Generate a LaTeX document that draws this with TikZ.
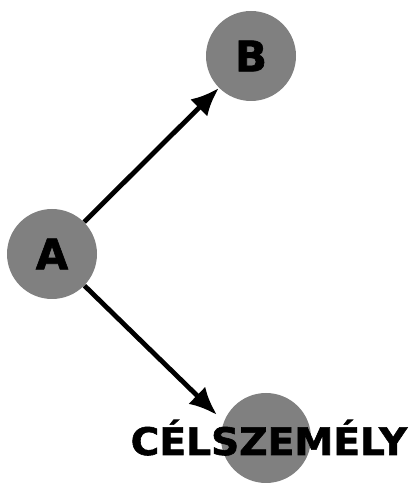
\documentclass[tikz,border=0pt]{standalone}
\usepackage{fontspec}
\setmainfont{DejaVu Sans}
\newfontfamily\heavyfont[FakeBold=1.5]{DejaVu Sans Bold}
\usetikzlibrary{arrows.meta, positioning}
\definecolor{nodegray}{RGB}{128,128,128}
\newcommand{\nodesize}{90pt}

\begin{document}
\begin{tikzpicture}[x=1pt,y=1pt,style=thick]
            \useasboundingbox (0,0) rectangle (410,484);
            \begin{scope}[shape=circle,minimum size=\nodesize]
            \tikzstyle{every node}=[fill=nodegray,inner sep=0pt,font=\heavyfont\fontsize{42}{42}\selectfont]
            
            \node (A) at (52,230) {A};
            \node (B) at (251,428) {B};
            \node (C) at (266,46) {};
            \end{scope}
            
            \node[inner sep=0pt,anchor=base,xscale=1.03,font=\heavyfont\fontsize{38}{38}\selectfont] (Cl) at (269,29) {CÉLSZEMÉLY};
            \coordinate (Ctip) at (217,69);
            
            \draw [line width=4.8pt,-{Latex[length=28pt,width=24pt]}] (A) -- (B);
            \draw [line width=4.8pt,-{Latex[length=28pt,width=24pt]}] (A) -- (Ctip);
        \end{tikzpicture}
\end{document}
